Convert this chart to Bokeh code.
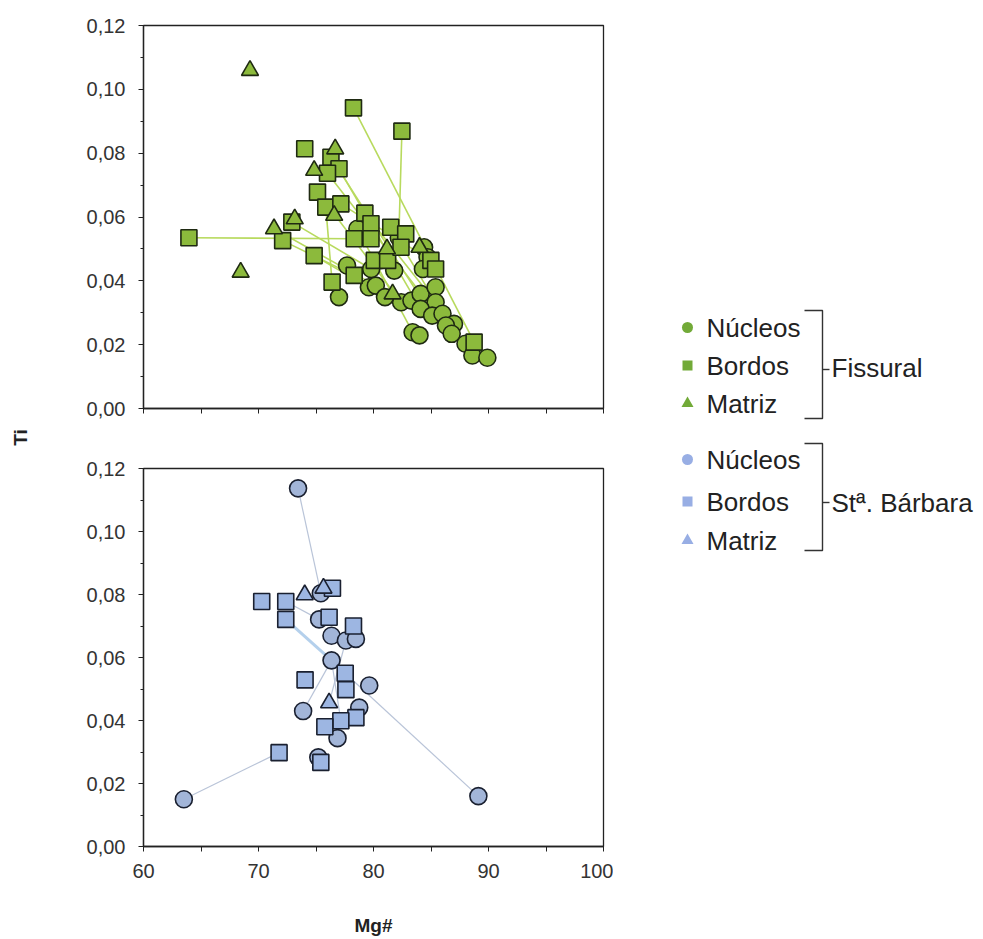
import math
from bokeh.plotting import figure
from bokeh.layouts import row, column
from bokeh.models import Range1d, FixedTicker, CustomJSTickFormatter
from bokeh.core.properties import value
from bokeh.embed import file_html
from bokeh.resources import INLINE

# ---------------- data: Fissural (top) ----------------
fis_nucleos_x = [78.6, 82.2, 84.4, 84.7, 84.3, 77.7, 79.8, 81.8, 79.6, 80.2, 77.0, 82.4, 83.3, 84.1,
                 85.4, 85.4, 84.1, 85.1, 86.0, 87.0, 86.3, 86.8, 83.4, 84.0, 88.0, 88.6, 89.9, 81.0]
fis_nucleos_y = [0.0563, 0.0535, 0.0505, 0.0474, 0.0437, 0.0448, 0.0437, 0.0432, 0.0380, 0.0385, 0.0349,
                 0.0333, 0.0338, 0.0359, 0.0380, 0.0333, 0.0312, 0.0291, 0.0297, 0.0265, 0.0260, 0.0234,
                 0.0239, 0.0229, 0.0203, 0.0166, 0.0159, 0.0349]
fis_bordos_x = [63.95, 78.26, 82.47, 74.02, 76.3, 77.0, 76.0, 75.13, 75.85, 77.16, 72.9, 72.1, 74.84,
                76.4, 79.25, 79.78, 78.32, 79.78, 81.5, 82.8, 80.07, 81.23, 78.32, 82.39, 84.99, 85.4, 88.75]
fis_bordos_y = [0.0535, 0.0942, 0.0869, 0.0814, 0.0787, 0.0751, 0.0737, 0.0678, 0.0631, 0.0641, 0.0584,
                0.0526, 0.0479, 0.0396, 0.0612, 0.0579, 0.0532, 0.0532, 0.0568, 0.0547, 0.0464, 0.0464,
                0.0417, 0.0505, 0.0464, 0.0437, 0.0208]
fis_matriz_x = [69.26, 68.45, 71.35, 73.15, 74.84, 76.67, 76.58, 81.17, 81.66, 84.0]
fis_matriz_y = [0.1059, 0.0427, 0.0563, 0.0594, 0.0746, 0.0813, 0.0605, 0.0500, 0.0359, 0.0505]
# tie lines (from -> to)
fis_tie_x0 = [63.95, 78.26, 82.47, 76.0, 77.0, 76.3, 75.85, 72.9, 72.1, 71.35, 74.84, 75.13, 77.16, 79.25, 81.5, 78.6]
fis_tie_y0 = [0.0535, 0.0942, 0.0869, 0.0737, 0.0751, 0.0787, 0.0631, 0.0584, 0.0526, 0.0563, 0.0479, 0.0678,
              0.0641, 0.0612, 0.0568, 0.0563]
fis_tie_x1 = [78.3, 88.75, 82.2, 86.3, 84.1, 85.1, 76.4, 79.8, 78.32, 80.2, 81.0, 82.4, 84.99, 85.4, 86.0, 83.4]
fis_tie_y1 = [0.0532, 0.0208, 0.0535, 0.0260, 0.0312, 0.0291, 0.0396, 0.0437, 0.0417, 0.0385, 0.0349, 0.0333,
              0.0464, 0.0333, 0.0297, 0.0239]

# ---------------- data: Sta. Barbara (bottom) ----------------
sb_nucleos_x = [73.44, 63.51, 89.12, 75.42, 75.27, 76.35, 77.6, 78.47, 76.35, 79.63, 73.88, 78.76, 76.87, 75.2]
sb_nucleos_y = [0.1137, 0.0150, 0.0160, 0.0804, 0.0721, 0.0669, 0.0654, 0.0659, 0.0591, 0.0511, 0.0430,
                0.0441, 0.0344, 0.0283]
sb_bordos_x = [70.28, 72.37, 72.37, 76.43, 76.14, 78.26, 74.05, 77.54, 77.6, 78.47, 77.16, 75.77, 71.79, 75.42]
sb_bordos_y = [0.0778, 0.0778, 0.0721, 0.0820, 0.0728, 0.0700, 0.0529, 0.0550, 0.0498, 0.0409, 0.0399,
               0.0380, 0.0298, 0.0267]
sb_matriz_x = [74.02, 75.65, 76.14]
sb_matriz_y = [0.0799, 0.0820, 0.0456]
sb_tie_x0 = [73.44, 63.51, 89.12, 72.37, 73.88, 76.35, 76.14]
sb_tie_y0 = [0.1137, 0.0150, 0.0160, 0.0778, 0.0430, 0.0591, 0.0456]
sb_tie_x1 = [75.42, 71.79, 77.54, 75.27, 76.35, 77.16, 77.6]
sb_tie_y1 = [0.0804, 0.0298, 0.0550, 0.0721, 0.0591, 0.0399, 0.0654]
sb_thick_x = [72.37, 76.35]
sb_thick_y = [0.0721, 0.0591]

x_ticks = [60, 70, 80, 90, 100]
x_minor = [65, 75, 85, 95]
y_ticks = [0.0, 0.02, 0.04, 0.06, 0.08, 0.10, 0.12]
y_minor = [0.01, 0.03, 0.05, 0.07, 0.09, 0.11]

FONT = "Liberation Sans"
GREEN = "#8cba3c"
GREEN_EDGE = "#1f2a12"
GREEN_LINE = "#b8da5e"
BLUE = "#a2b5d8"
BLUE_SQ = "#9db6e2"
BLUE_EDGE = "#1a2030"
BLUE_LINE = "#b9c4d8"

TOTAL_H = 938
LEFT_W = 30


def make_fig(height, top, bottom, show_xlabels):
    p = figure(width=583, height=height, output_backend="svg", toolbar_location=None,
               x_range=Range1d(60, 100), y_range=Range1d(0, 0.12),
               min_border_left=113, min_border_right=10, min_border_top=top, min_border_bottom=bottom)
    p.grid.visible = False
    p.outline_line_color = "#222222"
    p.outline_line_width = 1.3
    p.background_fill_color = "white"
    p.border_fill_color = "white"
    for ax in (p.xaxis[0], p.yaxis[0]):
        ax.axis_line_width = 1.3
        ax.axis_line_color = "#222222"
        ax.major_tick_line_color = "#222222"
        ax.minor_tick_line_color = "#222222"
        ax.major_tick_out = 5
        ax.major_tick_in = 0
        ax.minor_tick_in = 0
        ax.major_label_text_font = FONT
        ax.major_label_text_font_size = "20px"
        ax.major_label_text_color = "#333333"
        ax.axis_label_text_font = FONT
    p.xaxis.ticker = FixedTicker(ticks=x_ticks, minor_ticks=x_minor)
    p.xaxis.minor_tick_out = 5
    p.yaxis.ticker = FixedTicker(ticks=y_ticks, minor_ticks=y_minor)
    p.yaxis.minor_tick_out = 3
    p.yaxis.major_label_standoff = 13
    p.yaxis.formatter = CustomJSTickFormatter(code="return tick.toFixed(2).replace('.', ',');")
    if show_xlabels:
        p.xaxis.major_label_standoff = 12
        p.xaxis.axis_label = "Mg#"
        p.xaxis.axis_label_text_font_style = "bold"
        p.xaxis.axis_label_text_font_size = "19px"
        p.xaxis.axis_label_text_color = "#222222"
        p.xaxis.axis_label_standoff = 34
    else:
        p.xaxis.formatter = CustomJSTickFormatter(code="return '';")
    return p


top = make_fig(448, 25, 40, False)
top.segment(fis_tie_x0, fis_tie_y0, fis_tie_x1, fis_tie_y1, line_color=GREEN_LINE, line_width=1.6)
top.scatter(fis_nucleos_x, fis_nucleos_y, marker="circle", size=17, fill_color=GREEN,
            line_color=GREEN_EDGE, line_width=1.6)
top.scatter(fis_bordos_x, fis_bordos_y, marker="square", size=16, fill_color=GREEN,
            line_color=GREEN_EDGE, line_width=1.6)
top.scatter(fis_matriz_x, fis_matriz_y, marker="triangle", size=17, fill_color=GREEN,
            line_color=GREEN_EDGE, line_width=1.6)

bottom = make_fig(TOTAL_H - 448, 20, 85, True)
bottom.segment(sb_tie_x0, sb_tie_y0, sb_tie_x1, sb_tie_y1, line_color=BLUE_LINE, line_width=1.2)
bottom.line(sb_thick_x, sb_thick_y, line_color="#b4d0ec", line_width=3)
bottom.scatter(sb_nucleos_x, sb_nucleos_y, marker="circle", size=17, fill_color=BLUE,
               line_color=BLUE_EDGE, line_width=1.6)
bottom.scatter(sb_bordos_x, sb_bordos_y, marker="square", size=16, fill_color=BLUE_SQ,
               line_color=BLUE_EDGE, line_width=1.6)
bottom.scatter(sb_matriz_x, sb_matriz_y, marker="triangle", size=17, fill_color=BLUE_SQ,
               line_color=BLUE_EDGE, line_width=1.6)


def blank_fig(width, x0, yr):
    f = figure(width=width, height=TOTAL_H, output_backend="svg", toolbar_location=None,
               x_range=Range1d(x0, x0 + width), y_range=yr,
               x_axis_location=None, y_axis_location=None,
               min_border=0, min_border_left=0, min_border_right=0, min_border_top=0, min_border_bottom=0)
    f.grid.visible = False
    f.outline_line_color = None
    f.background_fill_color = "white"
    f.border_fill_color = "white"
    return f


# shared y-axis title panel
ti = blank_fig(LEFT_W, 0, Range1d(0, TOTAL_H))
ti.text([20], [TOTAL_H - 437], text=["Ti"], angle=math.pi / 2, text_align="center",
        text_baseline="middle", text_font=value(FONT), text_font_size=value("19px"),
        text_font_style="bold", text_color="#222222")

# ---------------- legend panel (page pixel coordinates) ----------------
leg = blank_fig(362, 613, Range1d(TOTAL_H, 0))
leg_names = ["Núcleos", "Bordos", "Matriz"]
leg_markers = ["circle", "square", "triangle"]
g_y = [327, 365, 403]
b_y = [459, 501, 540]
LEG_GREEN = "#72aa38"
LEG_BLUE = "#98aee4"
LEG_FS = value("26px")
leg.scatter([687] * 3, g_y, marker=leg_markers, size=[11, 10, 12], fill_color=LEG_GREEN, line_color=None)
leg.scatter([687] * 3, b_y, marker=leg_markers, size=[11, 10, 12], fill_color=LEG_BLUE, line_color=None)
leg.text([706] * 3, g_y, text=leg_names, text_font=value(FONT), text_font_size=LEG_FS,
         text_baseline="middle", text_color="#222222")
leg.text([706] * 3, b_y, text=leg_names, text_font=value(FONT), text_font_size=LEG_FS,
         text_baseline="middle", text_color="#222222")
# brackets
leg.line([804, 822, 822, 804], [310, 310, 418, 418], line_color="#333333", line_width=1.4)
leg.line([822, 829], [369, 369], line_color="#333333", line_width=1.4)
leg.line([804, 822, 822, 804], [443, 443, 550, 550], line_color="#333333", line_width=1.4)
leg.line([822, 829], [502, 502], line_color="#333333", line_width=1.4)
leg.text([831], [367], text=["Fissural"], text_font=value(FONT), text_font_size=LEG_FS,
         text_baseline="middle", text_color="#222222")
leg.text([831], [502], text=["Stª. Bárbara"], text_font=value(FONT), text_font_size=LEG_FS,
         text_baseline="middle", text_color="#222222")

layout = row(ti, column(top, bottom), leg)
open("out.html", "w").write(file_html(layout, INLINE))
